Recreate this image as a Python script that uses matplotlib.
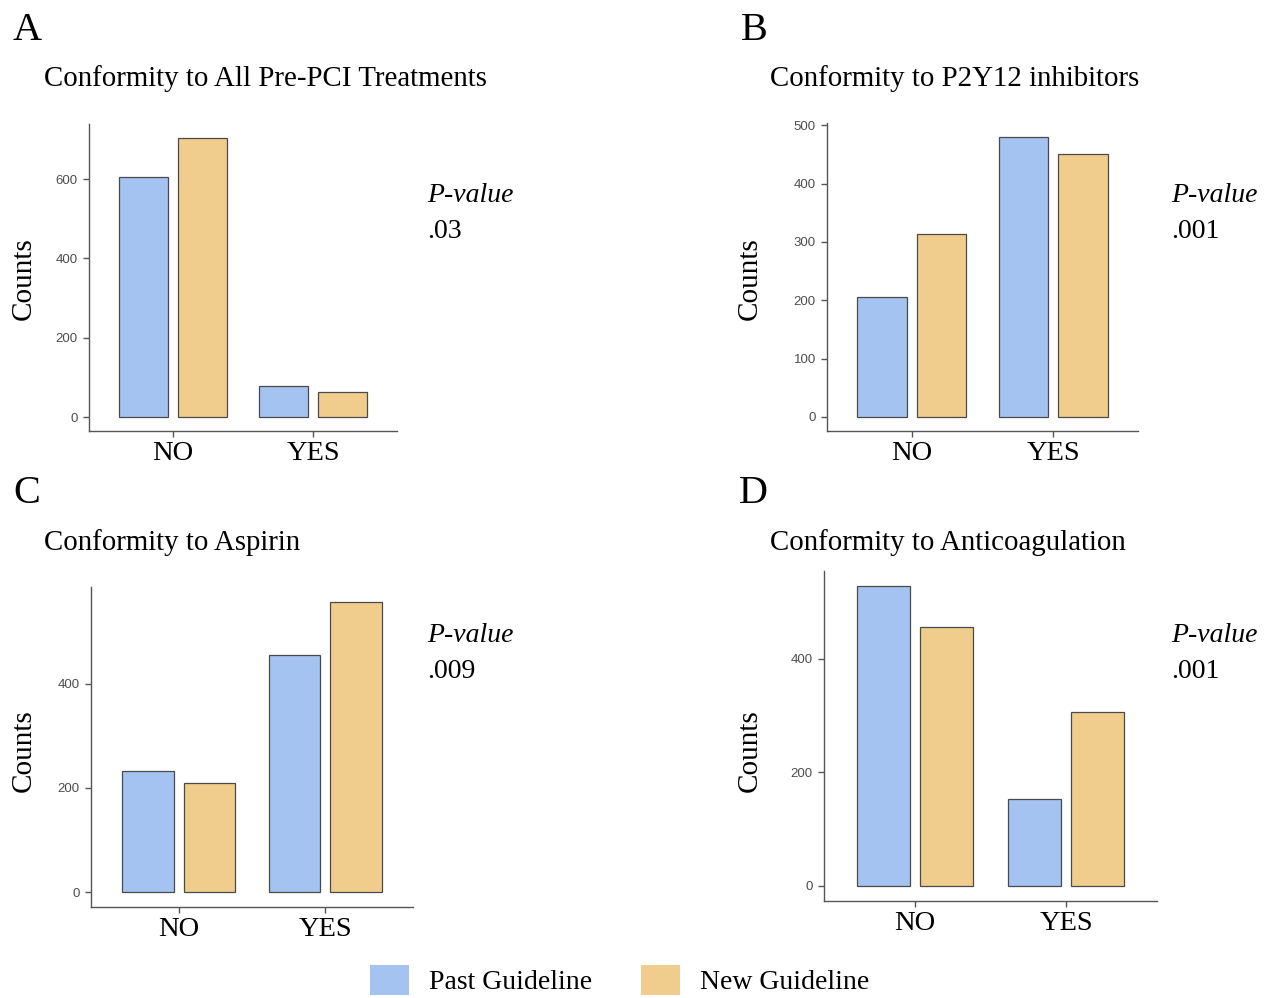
import matplotlib
matplotlib.use("Agg")
import matplotlib.pyplot as plt
from matplotlib.patches import Patch

categories = ["NO", "YES"]
series_names = ["Past Guideline", "New Guideline"]

past_a = [605, 78]
new_a = [704, 63]
past_b = [205, 480]
new_b = [314, 450]
past_c = [232, 454]
new_c = [210, 557]
past_d = [528, 154]
new_d = [456, 307]

ticks_a = [0, 200, 400, 600]
ticks_b = [0, 100, 200, 300, 400, 500]
ticks_c = [0, 200, 400]
ticks_d = [0, 200, 400]

titles = ["Conformity to All Pre-PCI Treatments", "Conformity to P2Y12 inhibitors",
          "Conformity to Aspirin", "Conformity to Anticoagulation"]
letters = ["A", "B", "C", "D"]
pvalues = [".03", ".001", ".009", ".001"]

BLUE = "#A4C3F0"
GOLD = "#F0CD8C"
EDGE = "#4a4a4a"
AXC = "#555555"
SERIF = "Liberation Serif"
SANS = "Liberation Sans"

W, H = 1265, 998
fig = plt.figure(figsize=(W / 100, H / 100), dpi=100)


def box(l, r, t, b):
    return [l / W, 1 - b / H, (r - l) / W, (b - t) / H]


def panel(rect, past, new, ticks):
    ax = fig.add_axes(rect)
    x = range(len(categories))
    ax.bar([i - 0.21 for i in x], past, width=0.35, color=BLUE, edgecolor=EDGE, linewidth=0.9)
    ax.bar([i + 0.21 for i in x], new, width=0.35, color=GOLD, edgecolor=EDGE, linewidth=0.9)
    top = max(max(past), max(new))
    ax.set_ylim(-0.05 * top, 1.05 * top)
    ax.set_xlim(-0.6, 1.6)
    ax.set_xticks(list(x))
    ax.set_xticklabels(categories, fontsize=20.5, fontfamily=SERIF, color="black")
    ax.set_yticks(ticks)
    ax.set_yticklabels([str(t) for t in ticks], fontsize=9.5, fontfamily=SANS, color="#4D4D4D")
    for s in ["top", "right"]:
        ax.spines[s].set_visible(False)
    for s in ["left", "bottom"]:
        ax.spines[s].set_color(AXC)
        ax.spines[s].set_linewidth(1.0)
    ax.tick_params(axis="both", length=4, width=1.0, color=AXC)
    ax.tick_params(axis="y", pad=4)
    ax.tick_params(axis="x", pad=3)
    return ax


rects = [box(89, 397, 124, 431), box(827, 1138, 123, 431),
         box(91, 413, 587, 907), box(824, 1157, 571, 901)]
data = [(past_a, new_a, ticks_a), (past_b, new_b, ticks_b),
        (past_c, new_c, ticks_c), (past_d, new_d, ticks_d)]

# pixel anchors for the text around each panel
letter_pos = [(13, 31), (741, 31), (13, 494), (739, 494)]
title_pos = [(44, 79), (770, 79), (44, 543), (770, 543)]
ylab_pos = [(24, 279), (750, 279), (24, 751), (750, 751)]
pval_pos = [(427, 195), (1171, 195), (427, 635), (1171, 635)]

for k in range(4):
    panel(rects[k], *data[k])
    lx, ly = letter_pos[k]
    fig.text(lx / W, 1 - ly / H, letters[k], fontsize=29, fontfamily=SERIF, va="center", ha="left")
    tx, ty = title_pos[k]
    fig.text(tx / W, 1 - ty / H, titles[k], fontsize=20.8, fontfamily=SERIF, va="center", ha="left")
    yx, yy = ylab_pos[k]
    fig.text(yx / W, 1 - yy / H, "Counts", fontsize=21, fontfamily=SERIF, rotation=90,
             va="center", ha="center")
    px, py = pval_pos[k]
    fig.text(px / W, 1 - py / H, "P-value", fontsize=20, fontfamily=SERIF, style="italic",
             va="center", ha="left")
    fig.text(px / W, 1 - (py + 37) / H, pvalues[k], fontsize=20, fontfamily=SERIF,
             va="center", ha="left")

handles = [Patch(facecolor=BLUE, edgecolor="none"), Patch(facecolor=GOLD, edgecolor="none")]
fig.legend(handles, series_names, loc="lower center", bbox_to_anchor=(620 / W, 0.0),
           ncol=2, frameon=False, prop={"family": SERIF, "size": 20},
           handlelength=1.4, handleheight=1.3, handletextpad=0.72, columnspacing=1.76,
           borderaxespad=0.0, borderpad=0.1)

fig.savefig("out.png", dpi=100)
